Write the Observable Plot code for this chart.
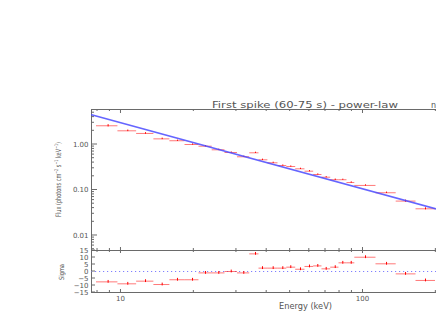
<!DOCTYPE html>
<html><head><meta charset="utf-8">
<script src="https://cdn.jsdelivr.net/npm/d3@7"></script>
<script src="https://cdn.jsdelivr.net/npm/@observablehq/plot@0.6"></script>
<style>
html,body{margin:0;padding:0;background:#fff;overflow:hidden;}
#wrap{position:relative;width:436px;height:327px;}
#wrap svg{position:absolute;left:0;}
</style></head>
<body><div id="wrap"></div>
<script>
// ---- data ----
const energyMid = [8.89,10.72,12.69,14.87,17.20,19.85,22.45,25.48,28.68,32.32,36.13,38.62,42.76,46.85,50.55,55.44,60.39,65.36,70.79,77.16,82.92,89.83,102.9,125.7,150.6,182.1];
const energyLo  = [7.96,9.76,11.66,13.74,16.00,18.48,21.10,23.93,27.03,30.44,34.20,37.35,40.66,44.76,48.67,52.97,57.86,62.85,68.01,73.90,79.96,86.29,92.94,113.7,137.8,166.4];
const energyHi  = [9.76,11.66,13.74,16.00,18.48,21.10,23.93,27.03,30.44,34.20,37.35,40.66,44.76,48.67,52.97,57.86,62.85,68.01,73.90,79.96,86.29,92.94,113.7,137.8,166.4,200.3];
const flux      = [2.58,2.0,1.75,1.33,1.21,1.0,0.918,0.765,0.667,0.537,0.657,0.461,0.396,0.345,0.328,0.292,0.259,0.219,0.191,0.168,0.168,0.146,0.126,0.087,0.057,0.0386];
const fluxErr   = [0.15,0.08,0.07,0.05,0.04,0.03,0.03,0.025,0.02,0.018,0.02,0.015,0.012,0.01,0.01,0.009,0.008,0.007,0.006,0.006,0.005,0.005,0.004,0.003,0.003,0.002];
const sigma     = [-7.4,-8.8,-6.9,-9.3,-5.9,-5.9,-1.0,-1.0,0.0,-1.0,12.6,2.4,2.4,2.4,3.1,1.6,3.6,4.0,1.9,3.1,6.2,6.2,10.2,5.5,-1.7,-6.4];
const modelEnergy = [7.59, 202.2];
const modelFlux   = [4.5, 0.0382];
const xMajor = [10, 100];
const xMinor = [8, 9, 20, 30, 40, 50, 60, 70, 80, 90, 200];
const yMajor = [0.01, 0.1, 1];
const yMajorLabels = ["0.01", "0.10", "1.00"];
const yMinor = [0.005,0.006,0.007,0.008,0.009,0.02,0.03,0.04,0.05,0.06,0.07,0.08,0.09,0.2,0.3,0.4,0.5,0.6,0.7,0.8,0.9,2,3,4,5];
const sigmaTicks = [-15, -10, -5, 0, 5, 10, 15];
const titleText = "First spike (60-75 s) - power-law";
const xLabel = "Energy (keV)";
const residLabel = "Sigma";

const rows = energyMid.map((e, i) => ({e, lo: energyLo[i], hi: energyHi[i], f: flux[i], fe: fluxErr[i], s: sigma[i]}));
const model = modelEnergy.map((e, i) => ({e, f: modelFlux[i]}));

const AX = "#6a6a6a", TX = "#555";
const W = 436, L = 91;
const xScale = {type: "log", domain: [7.59, 202.2], label: null};
const fontStyle = {fontFamily: "DejaVu Sans, sans-serif", fontSize: "7px", color: TX, background: "transparent", overflow: "visible"};

// ---- main panel: plot area y 109..250 ----
const mainH = 141;
const main = Plot.plot({
  width: W, height: 250, marginTop: 109, marginBottom: 0, marginLeft: L, marginRight: 0,
  x: xScale,
  y: {type: "log", domain: [0.00468, 5.88], label: null},
  style: fontStyle,
  marks: [
    Plot.ruleY([0.00468], {stroke: AX}),
    Plot.ruleY([5.88], {stroke: AX}),
    Plot.ruleX([7.59], {stroke: AX}),
    // top ticks
    Plot.ruleX(xMajor, {x: d => d, stroke: AX, insetBottom: mainH - 4}),
    Plot.ruleX(xMinor, {x: d => d, stroke: AX, insetBottom: mainH - 2}),
    // bottom ticks
    Plot.ruleX(xMajor, {x: d => d, stroke: AX, insetTop: mainH - 3}),
    Plot.ruleX(xMinor, {x: d => d, stroke: AX, insetTop: mainH - 2}),
    Plot.axisY({ticks: yMajor, tickSize: 0, tickPadding: 3, label: null,
      tickFormat: d => yMajorLabels[yMajor.findIndex(v => Math.abs(v - d) < 1e-9)], fill: TX, fontSize: 7}),
    Plot.axisX({ticks: [], label: null, tickSize: 0}),
    // data
    Plot.ruleY(rows, {y: "f", x1: "lo", x2: "hi", stroke: "#ff2020", strokeOpacity: 0.6, clip: true}),
    Plot.ruleX(rows, {x: "e", y1: d => d.f - d.fe, y2: d => d.f + d.fe, stroke: "#ff0000", clip: true}),
    Plot.line(model, {x: "e", y: "f", stroke: "#4a4aff", strokeOpacity: 0.85, clip: true})
  ]
});
main.style.top = "0px";

// ---- residual panel: plot area y 250..292 ----
const resH = 42;
const resid = Plot.plot({
  width: W, height: 82, marginTop: 5, marginBottom: 35, marginLeft: L, marginRight: 0,
  x: xScale,
  y: {domain: [-15, 15], label: null},
  style: fontStyle,
  marks: [
    Plot.ruleY([-15], {stroke: AX}),
    Plot.ruleY([15], {stroke: AX}),
    Plot.ruleX([7.59], {stroke: AX}),
    Plot.ruleY([0], {stroke: "#8080ff", strokeDasharray: "1.2,2.8"}),
    Plot.ruleX(xMajor, {x: d => d, stroke: AX, insetBottom: resH - 3}),
    Plot.ruleX(xMinor, {x: d => d, stroke: AX, insetBottom: resH - 2}),
    Plot.ruleX(xMajor, {x: d => d, stroke: AX, insetTop: resH - 3}),
    Plot.ruleX(xMinor, {x: d => d, stroke: AX, insetTop: resH - 2}),
    Plot.axisY({ticks: sigmaTicks, tickSize: 0, tickPadding: 3, label: null, tickFormat: d => d < 0 ? "\u2212" + (-d) : String(d), fill: TX, fontSize: 7}),
    Plot.axisX({ticks: xMajor, tickSize: 0, tickPadding: 4, tickFormat: d => String(d), label: null, fill: TX, fontSize: 7}),
    Plot.ruleY(rows, {y: "s", x1: "lo", x2: "hi", stroke: "#ff2020", strokeOpacity: 0.6, clip: true}),
    Plot.ruleX(rows, {x: "e", y1: d => d.s - 1, y2: d => d.s + 1, stroke: "#ff0000", clip: true})
  ]
});
resid.style.top = "245px";

// inward left-side ticks positioned through each plot's y scale
function leftTicks(svg, vals, len) {
  const y = svg.scale("y");
  const g = d3.select(svg).append("g").attr("stroke", AX);
  vals.forEach(v => {
    const py = y.apply(v);
    g.append("line").attr("x1", L).attr("x2", L + len).attr("y1", py).attr("y2", py);
  });
}
leftTicks(main, yMajor, 6);
leftTicks(main, yMinor, 3);
leftTicks(resid, sigmaTicks, 4);

const wrap = document.getElementById("wrap");
wrap.appendChild(main);
wrap.appendChild(resid);

// ---- overlay text: title and axis labels ----
const ov = d3.select(wrap).append("svg").attr("width", W).attr("height", 327).style("top", "0px")
  .attr("font-family", "DejaVu Sans, sans-serif").attr("fill", TX);
ov.append("text").attr("x", 212).attr("y", 107.5).attr("font-size", 8.5)
  .attr("textLength", 186).attr("lengthAdjust", "spacingAndGlyphs").text(titleText);
ov.append("text").attr("x", 279).attr("y", 309).attr("font-size", 8)
  .attr("textLength", 53).attr("lengthAdjust", "spacingAndGlyphs").text(xLabel);
ov.append("text").attr("x", 431).attr("y", 107.5).attr("font-size", 8).text("n");
const yl = ov.append("text").attr("transform", "translate(61,217) rotate(-90)").attr("font-size", 7.5)
  .attr("textLength", 75).attr("lengthAdjust", "spacingAndGlyphs");
yl.append("tspan").text("Flux (photons cm");
yl.append("tspan").attr("dy", -3).attr("font-size", 5).text("\u22122");
yl.append("tspan").attr("dy", 3).text(" s");
yl.append("tspan").attr("dy", -3).attr("font-size", 5).text("\u22121");
yl.append("tspan").attr("dy", 3).text(" keV");
yl.append("tspan").attr("dy", -3).attr("font-size", 5).text("\u22121");
yl.append("tspan").attr("dy", 3).text(")");
ov.append("text").attr("transform", "translate(64,280) rotate(-90)").attr("font-size", 7)
  .attr("textLength", 16).attr("lengthAdjust", "spacingAndGlyphs").text(residLabel);
</script></body></html>
